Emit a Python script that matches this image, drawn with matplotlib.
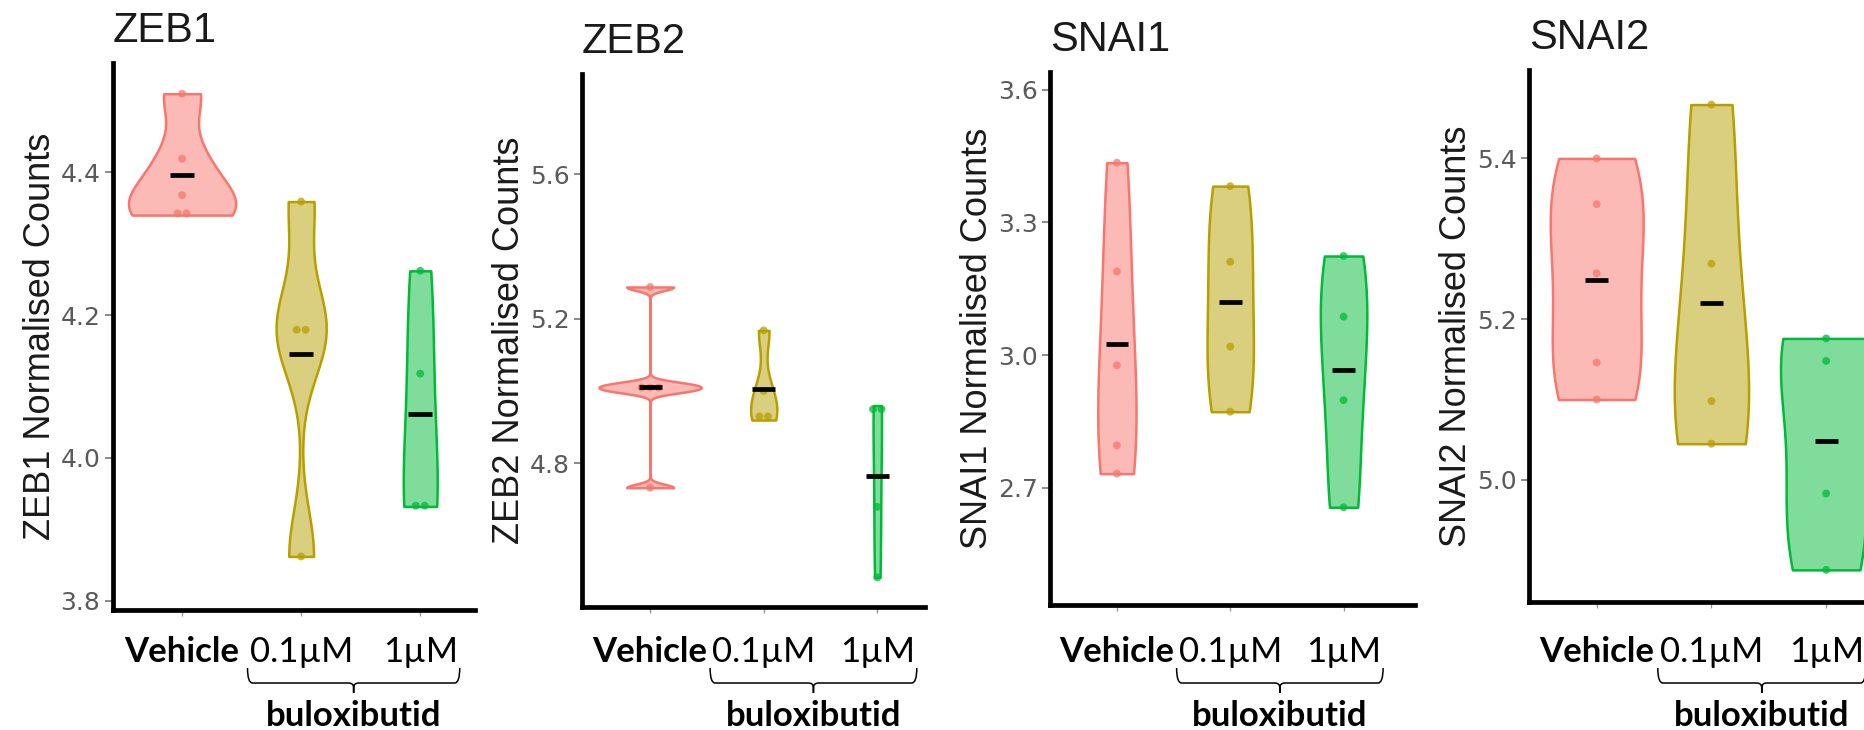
import numpy as np
import matplotlib
matplotlib.use("Agg")
import matplotlib.pyplot as plt
from matplotlib import font_manager, transforms
from matplotlib.colors import to_rgba
from matplotlib.path import Path
from matplotlib.patches import PathPatch

# --- data ---
genes = ["ZEB1", "ZEB2", "SNAI1", "SNAI2"]
groups = ["Vehicle", "0.1µM", "1µM"]
group_colors = ["#F8766D", "#B79F00", "#00BA38"]

zeb1 = [[4.510, 4.419, 4.368, 4.345, 4.340],
        [4.359, 4.181, 4.178, 3.862],
        [4.262, 4.118, 3.934, 3.932]]
zeb2 = [[5.288, 5.020, 5.010, 5.000, 4.733],
        [5.168, 5.000, 4.940, 4.920],
        [4.960, 4.940, 4.680, 4.485]]
snai1 = [[3.435, 3.189, 2.977, 2.796, 2.732],
         [3.382, 3.211, 3.019, 2.872],
         [3.224, 3.087, 2.898, 2.656]]
snai2 = [[5.400, 5.343, 5.257, 5.146, 5.100],
         [5.467, 5.269, 5.098, 5.045],
         [5.176, 5.148, 4.983, 4.888]]
panel_data = [zeb1, zeb2, snai1, snai2]

y_ticks = [[3.8, 4.0, 4.2, 4.4],
           [4.8, 5.2, 5.6],
           [2.7, 3.0, 3.3, 3.6],
           [5.0, 5.2, 5.4]]

# --- layout (pixels in the 1865x730 picture) ---
W, H = 1865, 730
panel_px = [(113, 475, 63, 610),     # left, right, top, bottom
            (582, 925, 74, 607),
            (1050, 1415, 72, 605),
            (1529, 1895, 70, 602)]
x_lims = [(0.42, 3.46), (0.40, 3.42), (0.41, 3.63), (0.41, 3.60)]
y_lims = [(3.787, 4.553), (4.403, 5.877), (2.435, 3.640), (4.848, 5.510)]
violin_width = [0.90, 0.90, 0.41, 0.81]

names = {f.name for f in font_manager.fontManager.ttflist}
if "Liberation Sans Narrow" in names:
    ylab_font, ylab_size = "Liberation Sans Narrow", 31
else:
    ylab_font, ylab_size = "Liberation Sans", 26
label_font = "Lato" if "Lato" in names else "DejaVu Sans"


def nrd0(x):
    # same rule of thumb as R's bw.nrd0 (used by ggplot's violins)
    hi = np.std(x, ddof=1)
    q75, q25 = np.percentile(x, [75, 25])
    lo = min(hi, (q75 - q25) / 1.34)
    if lo == 0:
        lo = hi or abs(x[0]) or 1.0
    return 0.9 * lo * len(x) ** -0.2


def kde(x, grid, bw):
    z = (grid[:, None] - x[None, :]) / bw
    return np.exp(-0.5 * z ** 2).sum(axis=1) / (len(x) * bw * np.sqrt(2 * np.pi))


def dot_bins(vals, binwidth):
    v = np.sort(vals)
    bins, cur = [], [v[0]]
    for x in v[1:]:
        if x - cur[0] < binwidth:
            cur.append(x)
        else:
            bins.append(cur)
            cur = [x]
    bins.append(cur)
    return bins


fig = plt.figure(figsize=(W / 100, H / 100), dpi=100)
brace_texts = []

for i, gene in enumerate(genes):
    L, R, T, B = panel_px[i]
    ax = fig.add_axes([L / W, 1 - B / H, (R - L) / W, (B - T) / H])

    data = [np.array(v) for v in panel_data[i]]
    grids = [np.linspace(d.min(), d.max(), 512) for d in data]
    dens = [kde(d, g, nrd0(d)) for d, g in zip(data, grids)]
    top = max(de.max() for de in dens)
    allv = np.concatenate(data)
    binw = (allv.max() - allv.min()) / 30

    for j, (d, g, de) in enumerate(zip(data, grids, dens)):
        pos = j + 1
        c = group_colors[j]
        half = de / top * violin_width[i] / 2
        ax.fill_betweenx(g, pos - half, pos + half, facecolor=to_rgba(c, 0.5),
                         edgecolor=c, linewidth=1.8, zorder=2)
        for b in dot_bins(d, binw):
            k = len(b)
            xs = pos + (np.arange(k) - (k - 1) / 2) * 0.075
            ax.scatter(xs, [np.mean(b)] * k, s=32, color=c, alpha=0.75,
                       edgecolors="none", zorder=3)
        ax.hlines(d.mean(), pos - 0.1, pos + 0.1, color="black", lw=3.4, zorder=4)

    ax.set_xlim(x_lims[i])
    ax.set_ylim(y_lims[i])
    ax.set_xticks([1, 2, 3])
    ax.set_yticks(y_ticks[i])
    ax.set_yticklabels([f"{t:.1f}" for t in y_ticks[i]], family="DejaVu Sans")
    ax.tick_params(axis="x", labelbottom=False, length=4, width=1, color="#999999")
    ax.tick_params(axis="y", length=6, width=1.2, color="#777777", pad=3,
                   labelsize=18, labelcolor="#5a5a5a")
    for s in ["top", "right"]:
        ax.spines[s].set_visible(False)
    for s in ["left", "bottom"]:
        ax.spines[s].set_linewidth(3.4)
        ax.spines[s].set_color("black")
        ax.spines[s].set_capstyle("projecting")

    ax.set_title(gene, loc="left", pad=15, fontsize=30, family="Liberation Sans",
                 color="#1a1a1a")
    ax.set_ylabel(f"{gene} Normalised Counts", family=ylab_font, fontsize=ylab_size,
                  color="#1a1a1a", va="baseline")
    ax.yaxis.set_label_coords(-63 / (R - L), 0.5)

    trans = transforms.blended_transform_factory(ax.transData, fig.transFigure)
    texts = []
    for j, grp in enumerate(groups):
        t = ax.text(j + 1, 1 - 662 / H, grp, transform=trans, ha="center", va="baseline",
                    family=label_font, fontsize=25,
                    fontweight="bold" if j == 0 else "normal", clip_on=False)
        texts.append(t)
    brace_texts.append((texts[1], texts[2]))

# curly bracket under the two doses + drug name
fig.canvas.draw()
rend = fig.canvas.get_renderer()
yt, yb, ytick, r = H - 668, H - 683, H - 693, 5
for t_lo, t_hi in brace_texts:
    x0 = t_lo.get_window_extent(rend).x0 - 2
    x1 = t_hi.get_window_extent(rend).x1 + 2
    xm = (x0 + x1) / 2
    verts = [(x0, yt), (x0, yb), (x0 + r, yb), (xm - r, yb), (xm, yb), (xm, yb - r), (xm, ytick),
             (x1, yt), (x1, yb), (x1 - r, yb), (xm + r, yb), (xm, yb), (xm, yb - r), (xm, ytick)]
    codes = [Path.MOVETO, Path.CURVE3, Path.CURVE3, Path.LINETO, Path.CURVE3, Path.CURVE3, Path.LINETO] * 2
    verts = [(x / W, y / H) for x, y in verts]
    fig.add_artist(PathPatch(Path(verts, codes), transform=fig.transFigure,
                             facecolor="none", edgecolor="black", lw=1.1))
    fig.text(xm / W, 4 / H, "buloxibutid", ha="center", va="baseline",
             family=label_font, fontsize=25, fontweight="bold")

fig.savefig("out.png", dpi=100)
